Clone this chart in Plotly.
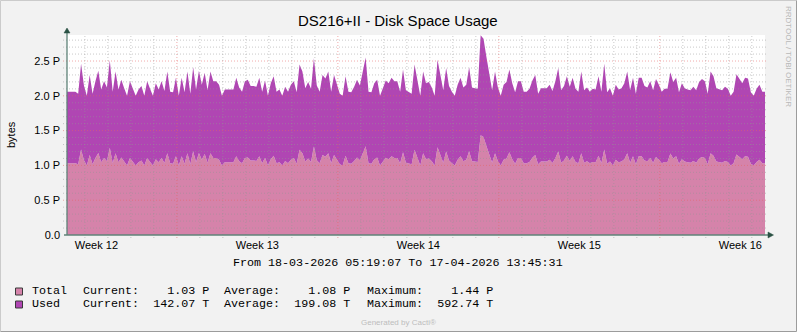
import plotly.graph_objects as go
import pandas as pd

# ---------------- data (in P) ----------------
start_time = "2026-03-18 05:00:00"   # first 3-hour sample
x_start = "2026-03-18 05:19:07"
x_end = "2026-04-17 13:45:31"

total = [1.03, 1.03, 1.03, 1.03, 1.015, 1.23, 1.075, 1.0, 1.15, 1.015,
         1.105, 1.18, 1.045, 1.105, 1.06, 1.255, 1.03, 1.175, 1.045, 1.115,
         1.055, 1.0, 1.105, 1.055, 1.0, 1.045, 1.07, 1.0, 1.105, 1.05,
         1.0, 1.09, 1.045, 1.105, 1.035, 1.175, 1.03, 1.025, 1.13, 1.0,
         1.13, 1.025, 1.175, 1.015, 1.205, 1.045, 1.18, 1.08, 1.165, 1.04,
         1.175, 1.105, 1.105, 1.08, 1.0, 1.045, 1.045, 1.045, 1.045, 1.13,
         1.06, 1.03, 1.105, 1.115, 1.07, 1.07, 1.065, 1.13, 1.03, 1.11,
         1.0, 1.09, 1.14, 1.03, 1.045, 1.0, 1.065, 1.03, 1.08, 1.105,
         1.025, 1.225, 1.175, 1.055, 1.1, 1.05, 1.27, 1.075, 1.03, 1.15,
         1.125, 1.175, 1.03, 1.15, 1.08, 1.015, 1.0, 1.14, 1.03, 1.025,
         1.065, 1.115, 1.075, 1.175, 1.275, 1.03, 1.025, 1.09, 1.115, 1.0,
         1.05, 1.11, 1.09, 1.13, 1.105, 1.105, 1.03, 1.19, 1.04, 1.03,
         1.015, 1.225, 1.1, 1.0, 1.175, 1.09, 1.1, 1.06, 1.0, 1.26,
         1.15, 1.04, 1.2, 1.07, 1.03, 1.0, 1.08, 1.13, 1.06, 1.08,
         1.205, 1.06, 1.055, 1.05, 1.435, 1.41, 1.28, 1.15, 1.04, 1.175,
         1.06, 1.0, 1.08, 1.1, 1.19, 1.09, 1.025, 1.105, 1.105, 1.03,
         1.03, 1.05, 1.11, 1.15, 1.015, 1.055, 1.055, 1.055, 1.08, 1.035,
         1.105, 1.2, 1.04, 1.07, 1.14, 1.065, 1.13, 1.05, 1.03, 1.175,
         1.04, 1.06, 1.03, 1.05, 1.045, 1.14, 1.03, 1.23, 1.025, 1.055,
         1.0, 1.08, 1.045, 1.055, 1.09, 1.175, 1.04, 1.13, 1.015, 1.13,
         1.13, 1.07, 1.06, 1.105, 1.04, 1.12, 1.08, 1.03, 1.05, 1.05,
         1.17, 1.1, 1.13, 1.025, 1.09, 1.055, 1.045, 1.04, 1.065, 1.04,
         1.1, 1.12, 1.105, 1.015, 1.175, 1.14, 1.055, 1.045, 1.04, 1.065,
         1.05, 1.0, 1.03, 1.155, 1.12, 1.09, 1.13, 1.125, 1.025, 1.0,
         1.05, 1.08, 1.03, 1.03]

used = [1.03, 1.03, 1.03, 1.03, 1.015, 1.23, 1.075, 1.0, 1.15, 1.015,
        1.105, 1.18, 1.045, 1.105, 1.06, 1.255, 1.03, 1.175, 1.045, 1.115,
        1.055, 1.0, 1.105, 1.055, 1.0, 1.045, 1.07, 1.0, 1.105, 1.05,
        1.0, 1.09, 1.045, 1.105, 1.035, 1.175, 1.03, 1.025, 1.13, 1.0,
        1.13, 1.025, 1.175, 1.015, 1.205, 1.045, 1.18, 1.08, 1.165, 1.04,
        1.175, 1.105, 1.105, 1.08, 1.0, 1.045, 1.045, 1.045, 1.045, 1.13,
        1.06, 1.03, 1.105, 1.115, 1.07, 1.07, 1.065, 1.13, 1.03, 1.11,
        1.0, 1.09, 1.14, 1.03, 1.045, 1.0, 1.065, 1.03, 1.08, 1.105,
        1.025, 1.225, 1.175, 1.055, 1.1, 1.05, 1.27, 1.075, 1.03, 1.15,
        1.125, 1.175, 1.03, 1.15, 1.08, 1.015, 1.0, 1.14, 1.03, 1.025,
        1.065, 1.115, 1.075, 1.175, 1.275, 1.03, 1.025, 1.09, 1.115, 1.0,
        1.05, 1.11, 1.09, 1.13, 1.105, 1.105, 1.03, 1.19, 1.04, 1.03,
        1.015, 1.225, 1.1, 1.0, 1.175, 1.09, 1.1, 1.06, 1.0, 1.26,
        1.15, 1.04, 1.2, 1.07, 1.03, 1.0, 1.08, 1.13, 1.06, 1.08,
        1.205, 1.06, 1.055, 1.05, 1.435, 1.41, 1.28, 1.15, 1.04, 1.175,
        1.06, 1.0, 1.08, 1.1, 1.19, 1.09, 1.025, 1.105, 1.105, 1.03,
        1.03, 1.05, 1.11, 1.15, 1.015, 1.055, 1.055, 1.055, 1.08, 1.035,
        1.105, 1.2, 1.04, 1.07, 1.14, 1.065, 1.13, 1.05, 1.03, 1.175,
        1.04, 1.06, 1.03, 1.05, 1.045, 1.14, 1.03, 1.23, 1.025, 1.055,
        1.0, 1.08, 1.045, 1.055, 1.09, 1.175, 1.04, 1.13, 1.015, 1.13,
        1.13, 1.07, 1.06, 1.105, 1.04, 1.12, 1.08, 1.03, 1.05, 1.05,
        1.17, 1.1, 1.13, 1.025, 1.09, 1.055, 1.045, 1.04, 1.065, 1.04,
        1.1, 1.12, 1.105, 1.015, 1.175, 1.14, 1.055, 1.045, 1.04, 1.065,
        1.05, 1.0, 1.03, 1.155, 1.12, 1.09, 1.13, 1.125, 1.025, 1.0,
        1.05, 1.08, 1.03, 1.03]

week_labels = ["Week 12", "Week 13", "Week 14", "Week 15", "Week 16"]
week_mid = ["2026-03-19 12:00", "2026-03-26 12:00", "2026-04-02 12:00",
            "2026-04-09 12:00", "2026-04-16 12:00"]
y_ticks = [0.0, 0.5, 1.0, 1.5, 2.0, 2.5]
y_labels = ["0.0", "0.5 P", "1.0 P", "1.5 P", "2.0 P", "2.5 P"]
y_max = 2.874

legend_rows = [
    ("Total", "Current:    1.03 P", "Average:    1.08 P", "Maximum:    1.44 P"),
    ("Used", "Current:  142.07 T", "Average:  199.08 T", "Maximum:  592.74 T"),
]

PINK = "#D583AA"
PURPLE = "#B046B3"

# ---------------- geometry helpers ----------------
W, H = 797, 332
L, R, T, B = 67, 765, 35, 235


def px(x):
    return (x - L) / (R - L)


def py(y):
    return (B - y) / (B - T)


times = pd.date_range(start_time, periods=len(total), freq="3h")

fig = go.Figure()
fig.add_trace(go.Scatter(x=times, y=total, stackgroup="s", mode="lines",
                         line=dict(width=0, color=PINK), fillcolor=PINK,
                         hoverinfo="skip", name="Total"))
fig.add_trace(go.Scatter(x=times, y=used, stackgroup="s", mode="lines",
                         line=dict(width=0, color=PURPLE), fillcolor=PURPLE,
                         hoverinfo="skip", name="Used"))

shapes = []
GRAY = "rgba(150,150,150,0.5)"
RED = "rgba(230,100,100,0.55)"
DOT = "1px,2px"
# horizontal grid
for i in range(1, 29):
    v = i / 10
    major = (i % 5 == 0)
    shapes.append(dict(type="line", xref="paper", yref="y",
                       x0=px(63), x1=px(768), y0=v, y1=v,
                       line=dict(color=RED if major else GRAY, width=1, dash=DOT),
                       layer="above"))
# vertical grid (daily, Mondays major)
for d in pd.date_range("2026-03-19", "2026-04-17", freq="D"):
    major = d.weekday() == 0
    shapes.append(dict(type="line", xref="x", yref="paper",
                       x0=d, x1=d, y0=py(238), y1=1,
                       line=dict(color=RED if major else GRAY, width=1, dash=DOT),
                       layer="above"))

AX = "#5F8378"
ARW = "#2B5244"
# axes lines
shapes.append(dict(type="line", xref="paper", yref="paper",
                   x0=px(67), x1=px(67), y0=py(235), y1=py(31),
                   line=dict(color=AX, width=1.3), layer="above"))
shapes.append(dict(type="line", xref="paper", yref="paper",
                   x0=px(64), x1=px(770), y0=py(235), y1=py(235),
                   line=dict(color=AX, width=1.3), layer="above"))
# arrows
shapes.append(dict(type="path", xref="paper", yref="paper",
                   path=f"M {px(64)},{py(33)} L {px(70)},{py(33)} L {px(67)},{py(28)} Z",
                   fillcolor=ARW, line=dict(color=ARW, width=0.5), layer="above"))
shapes.append(dict(type="path", xref="paper", yref="paper",
                   path=f"M {px(768)},{py(232)} L {px(768)},{py(238)} L {px(773.5)},{py(235)} Z",
                   fillcolor=ARW, line=dict(color=ARW, width=0.5), layer="above"))
# outer frame of the image
shapes.append(dict(type="line", xref="paper", yref="paper",
                   x0=px(0.5), x1=px(796.5), y0=py(0.5), y1=py(0.5),
                   line=dict(color="#CBCBCB", width=1)))
shapes.append(dict(type="line", xref="paper", yref="paper",
                   x0=px(0.5), x1=px(0.5), y0=py(0.5), y1=py(331.5),
                   line=dict(color="#CBCBCB", width=1)))
shapes.append(dict(type="line", xref="paper", yref="paper",
                   x0=px(0.5), x1=px(796.5), y0=py(331.5), y1=py(331.5),
                   line=dict(color="#9C9C9C", width=1)))
shapes.append(dict(type="line", xref="paper", yref="paper",
                   x0=px(796.5), x1=px(796.5), y0=py(0.5), y1=py(331.5),
                   line=dict(color="#9C9C9C", width=1)))
# legend swatches
for row, col in zip([291.5, 304.5], [PINK, PURPLE]):
    shapes.append(dict(type="rect", xref="paper", yref="paper",
                       x0=px(15.5), x1=px(22.5), y0=py(row - 3.5), y1=py(row + 3.5),
                       fillcolor=col, line=dict(color="#3A3A3A", width=1)))

ann = []
SANS = "Liberation Sans"
MONO = "Liberation Mono"
ann.append(dict(text="DS216+II - Disk Space Usage", x=px(398), y=py(21),
                xref="paper", yref="paper", showarrow=False,
                xanchor="center", yanchor="middle",
                font=dict(family=SANS, size=15, color="#000000")))
ann.append(dict(text="bytes", x=px(11), y=py(134), textangle=-90,
                xref="paper", yref="paper", showarrow=False,
                xanchor="center", yanchor="middle",
                font=dict(family=SANS, size=11, color="#000000")))
ann.append(dict(text="RRDTOOL / TOBI OETIKER", x=px(789), y=py(56), textangle=90,
                xref="paper", yref="paper", showarrow=False,
                xanchor="center", yanchor="middle",
                font=dict(family=SANS, size=8, color="#B8B8B8")))
ann.append(dict(text="From 18-03-2026 05:19:07 To 17-04-2026 13:45:31",
                x=px(398), y=py(263), xref="paper", yref="paper", showarrow=False,
                xanchor="center", yanchor="middle",
                font=dict(family=MONO, size=11.7, color="#000000")))
for row_y, parts in zip([291, 304], legend_rows):
    for xpos, txt in zip([30, 80.5, 222, 364.5], parts):
        ann.append(dict(text=txt, x=px(xpos), y=py(row_y),
                        xref="paper", yref="paper", showarrow=False,
                        xanchor="left", yanchor="middle",
                        font=dict(family=MONO, size=11.7, color="#000000")))
ann.append(dict(text="Generated by Cacti®", x=px(398), y=py(322),
                xref="paper", yref="paper", showarrow=False,
                xanchor="center", yanchor="middle",
                font=dict(family=SANS, size=8, color="#BDBDBD")))

fig.update_layout(
    width=W, height=H,
    margin=dict(l=L, r=W - R, t=T, b=H - B, pad=0),
    paper_bgcolor="#F2F2F2", plot_bgcolor="#FFFFFF",
    showlegend=False,
    shapes=shapes, annotations=ann,
    xaxis=dict(type="date", range=[x_start, x_end], tickvals=week_mid,
               ticktext=week_labels, showgrid=False, zeroline=False,
               showline=False, ticks="", ticklabelstandoff=2,
               tickfont=dict(family=SANS, size=11, color="#000000"),
               fixedrange=True),
    yaxis=dict(range=[0, y_max], tickvals=y_ticks, ticktext=y_labels,
               showgrid=False, zeroline=False, showline=False, ticks="",
               ticklabelstandoff=6,
               tickfont=dict(family=SANS, size=11, color="#000000"),
               fixedrange=True),
)

fig.write_html("out.html")
